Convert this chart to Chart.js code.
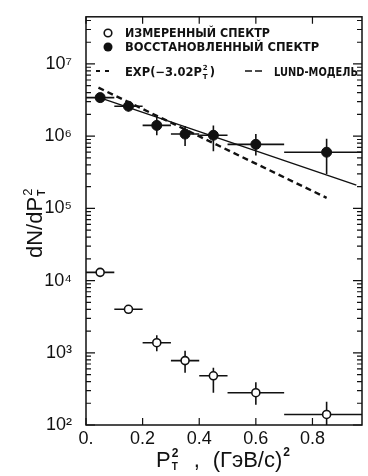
<!DOCTYPE html>
<html>
<head>
<meta charset="utf-8">
<script src="https://cdn.jsdelivr.net/npm/chart.js@4.4.0/dist/chart.umd.min.js"></script>
<style>
  html, body { margin: 0; padding: 0; background: #fff; }
  #wrap { width: 368px; height: 476px; position: relative; }
</style>
</head>
<body>
<div id="wrap"><canvas id="spectrum"></canvas></div>
<script>
// P_T^2 bins, (GeV/c)^2
const binCenters = [0.05, 0.15, 0.25, 0.35, 0.45, 0.6, 0.85];
const binLow = [0.0, 0.1, 0.2, 0.3, 0.4, 0.5, 0.7];
const binHigh = [0.1, 0.2, 0.3, 0.4, 0.5, 0.7, 1.0];

// measured spectrum (open circles)
const measured = [1.3e4, 4.0e3, 1.38e3, 7.8e2, 4.8e2, 2.8e2, 1.4e2];
const measuredLow = [1.3e4, 4.0e3, 1.05e3, 5.3e2, 2.8e2, 1.9e2, 1.0e2];
const measuredHigh = [1.3e4, 4.0e3, 1.75e3, 1.07e3, 6.2e2, 3.9e2, 2.1e2];

// reconstructed spectrum (filled circles)
const restored = [3.42e6, 2.6e6, 1.41e6, 1.07e6, 1.03e6, 7.7e5, 6.0e5];
const restoredLow = [3.42e6, 2.2e6, 1.03e6, 7.3e5, 6.2e5, 5.4e5, 3.0e5];
const restoredHigh = [3.42e6, 3.0e6, 1.87e6, 1.38e6, 1.41e6, 1.07e6, 9.2e5];

// exp(-3.02 P_T^2) fit (dashed) and Lund model (solid)
const expX = [0.044, 0.85];
const expY = [4.7e6, 1.4e5];
const lundX = [0.04, 0.955];
const lundY = [3.5e6, 2.1e5];

const xTicks = [0, 0.2, 0.4, 0.6, 0.8];
const xTickLabels = ['0.', '0.2', '0.4', '0.6', '0.8'];
const yTicks = [1e2, 1e3, 1e4, 1e5, 1e6, 1e7];
const yTickLabels = ['10²', '10³', '10⁴', '10⁵', '10⁶', '10⁷'];

const ink = '#111';
const toPts = (xs, ys) => xs.map((x, i) => ({ x: x, y: ys[i] }));

// error bars, drawn under the markers
const errorBars = {
  id: 'errorBars',
  beforeDatasetsDraw(chart) {
    const { ctx, chartArea: a, scales: { x, y } } = chart;
    const sets = [
      [measured, measuredLow, measuredHigh],
      [restored, restoredLow, restoredHigh]
    ];
    ctx.save();
    ctx.beginPath();
    ctx.rect(a.left, a.top, a.right - a.left, a.bottom - a.top);
    ctx.clip();
    ctx.strokeStyle = ink;
    ctx.lineWidth = 1.6;
    sets.forEach(([vals, lo, hi]) => {
      vals.forEach((v, i) => {
        const px = x.getPixelForValue(binCenters[i]);
        const py = y.getPixelForValue(v);
        ctx.beginPath();
        ctx.moveTo(x.getPixelForValue(binLow[i]), py);
        ctx.lineTo(x.getPixelForValue(binHigh[i]), py);
        ctx.moveTo(px, y.getPixelForValue(lo[i]));
        ctx.lineTo(px, y.getPixelForValue(hi[i]));
        ctx.stroke();
      });
    });
    ctx.restore();
  }
};

// frame, inward ticks, axis titles and legend
const decor = {
  id: 'decor',
  afterDraw(chart) {
    const { ctx, chartArea: a, scales: { x, y } } = chart;
    ctx.save();
    ctx.strokeStyle = ink;
    ctx.lineWidth = 1.5;
    ctx.strokeRect(a.left, a.top, a.right - a.left, a.bottom - a.top);

    ctx.lineWidth = 1.2;
    ctx.beginPath();
    yTicks.forEach(d => {
      for (let m = 1; m <= 9; m++) {
        const v = d * m;
        if (v < y.min || v > y.max) continue;
        const py = y.getPixelForValue(v);
        const len = m === 1 ? 9 : 5;
        ctx.moveTo(a.left, py); ctx.lineTo(a.left + len, py);
        ctx.moveTo(a.right, py); ctx.lineTo(a.right - len, py);
      }
    });
    xTicks.forEach(v => {
      const px = x.getPixelForValue(v);
      ctx.moveTo(px, a.bottom); ctx.lineTo(px, a.bottom - 7);
      ctx.moveTo(px, a.top); ctx.lineTo(px, a.top + 7);
    });
    ctx.stroke();

    ctx.fillStyle = ink;
    ctx.textBaseline = 'alphabetic';

    // y title: dN/dP_T^2
    ctx.save();
    ctx.translate(42, 258);
    ctx.rotate(-Math.PI / 2);
    ctx.font = '22px "Liberation Sans"';
    ctx.textAlign = 'left';
    ctx.fillText('dN/dP', 0, 0);
    let w = ctx.measureText('dN/dP').width;
    ctx.font = '13px "Liberation Sans"';
    ctx.fillText('2', w + 1, -10);
    ctx.font = 'bold 10px "Liberation Sans"';
    ctx.fillText('T', w + 1, 3);
    ctx.restore();

    // x title: P_T^2 , (GeV/c)^2
    ctx.font = '22px "Liberation Sans"';
    ctx.textAlign = 'left';
    let cx = 156;
    const base = 467;
    ctx.fillText('P', cx, base);
    cx += ctx.measureText('P').width + 1;
    ctx.font = 'bold 12px "Liberation Sans"';
    ctx.fillText('2', cx, base - 10);
    ctx.font = 'bold 10px "Liberation Sans"';
    ctx.fillText('T', cx, base + 3);
    cx += 22;
    ctx.font = '22px "Liberation Sans"';
    ctx.fillText(',', cx, base);
    cx += 19;
    ctx.fillText('(ГэВ/с)', cx, base);
    cx += ctx.measureText('(ГэВ/с)').width + 1;
    ctx.font = 'bold 12px "Liberation Sans"';
    ctx.fillText('2', cx, base - 11);

    // legend
    const lf = 'bold 11.5px "DejaVu Sans"';
    ctx.font = lf;
    ctx.lineWidth = 1.6;
    ctx.beginPath();
    ctx.arc(108, 33, 3.8, 0, Math.PI * 2);
    ctx.stroke();
    ctx.fillText('ИЗМЕРЕННЫЙ СПЕКТР', 125, 37, 145);
    ctx.beginPath();
    ctx.arc(108, 47, 4.5, 0, Math.PI * 2);
    ctx.fill();
    ctx.fillText('ВОССТАНОВЛЕННЫЙ СПЕКТР', 125, 51, 195);

    ctx.lineWidth = 2;
    ctx.setLineDash([4, 5]);
    ctx.beginPath();
    ctx.moveTo(96, 71); ctx.lineTo(114, 71);
    ctx.stroke();
    ctx.setLineDash([]);
    let lx = 125;
    ctx.fillText('EXP(−3.02P', lx, 76);
    lx += ctx.measureText('EXP(−3.02P').width;
    ctx.font = 'bold 7px "DejaVu Sans"';
    ctx.fillText('2', lx + 1, 70);
    ctx.fillText('T', lx + 1, 79);
    lx += 8;
    ctx.font = lf;
    ctx.fillText(')', lx, 76);
    ctx.lineWidth = 1.6;
    ctx.setLineDash([7, 3]);
    ctx.beginPath();
    ctx.moveTo(245, 71); ctx.lineTo(263, 71);
    ctx.stroke();
    ctx.setLineDash([]);
    ctx.fillText('LUND-МОДЕЛЬ', 274, 76, 84);
    ctx.restore();
  }
};

new Chart(document.getElementById('spectrum'), {
  type: 'scatter',
  data: {
    datasets: [
      {
        label: 'EXP(-3.02 P_T^2)',
        type: 'line',
        data: toPts(expX, expY),
        borderColor: ink,
        borderWidth: 2.4,
        borderDash: [6, 4],
        pointRadius: 0,
        fill: false
      },
      {
        label: 'LUND-МОДЕЛЬ',
        type: 'line',
        data: toPts(lundX, lundY),
        borderColor: ink,
        borderWidth: 1.4,
        pointRadius: 0,
        fill: false
      },
      {
        label: 'ИЗМЕРЕННЫЙ СПЕКТР',
        data: toPts(binCenters, measured),
        pointRadius: 4,
        pointBackgroundColor: '#fff',
        pointBorderColor: ink,
        pointBorderWidth: 1.6
      },
      {
        label: 'ВОССТАНОВЛЕННЫЙ СПЕКТР',
        data: toPts(binCenters, restored),
        pointRadius: 5,
        pointBackgroundColor: ink,
        pointBorderColor: ink,
        pointBorderWidth: 1
      }
    ]
  },
  options: {
    responsive: true,
    maintainAspectRatio: false,
    animation: false,
    layout: { padding: { top: 12, right: 2, left: 0, bottom: 0 } },
    plugins: {
      legend: { display: false },
      tooltip: { enabled: false }
    },
    scales: {
      x: {
        type: 'linear',
        min: 0,
        max: 0.975,
        grid: { display: false },
        border: { display: false },
        afterBuildTicks: (scale) => { scale.ticks = xTicks.map(v => ({ value: v })); },
        afterFit: (scale) => { scale.height = 51; },
        ticks: {
          color: ink,
          padding: -5,
          maxRotation: 0,
          autoSkip: false,
          font: { family: 'Liberation Sans', size: 18 },
          callback: (value, i) => xTickLabels[i]
        }
      },
      y: {
        type: 'logarithmic',
        min: 100,
        max: 4.5e7,
        grid: { display: false },
        border: { display: false },
        afterBuildTicks: (scale) => { scale.ticks = yTicks.map(v => ({ value: v })); },
        afterFit: (scale) => { scale.width = 86; },
        ticks: {
          color: ink,
          padding: 6,
          autoSkip: false,
          font: { family: 'Liberation Sans', size: 18 },
          callback: (value, i) => yTickLabels[i]
        }
      }
    }
  },
  plugins: [errorBars, decor]
});
</script>
</body>
</html>
